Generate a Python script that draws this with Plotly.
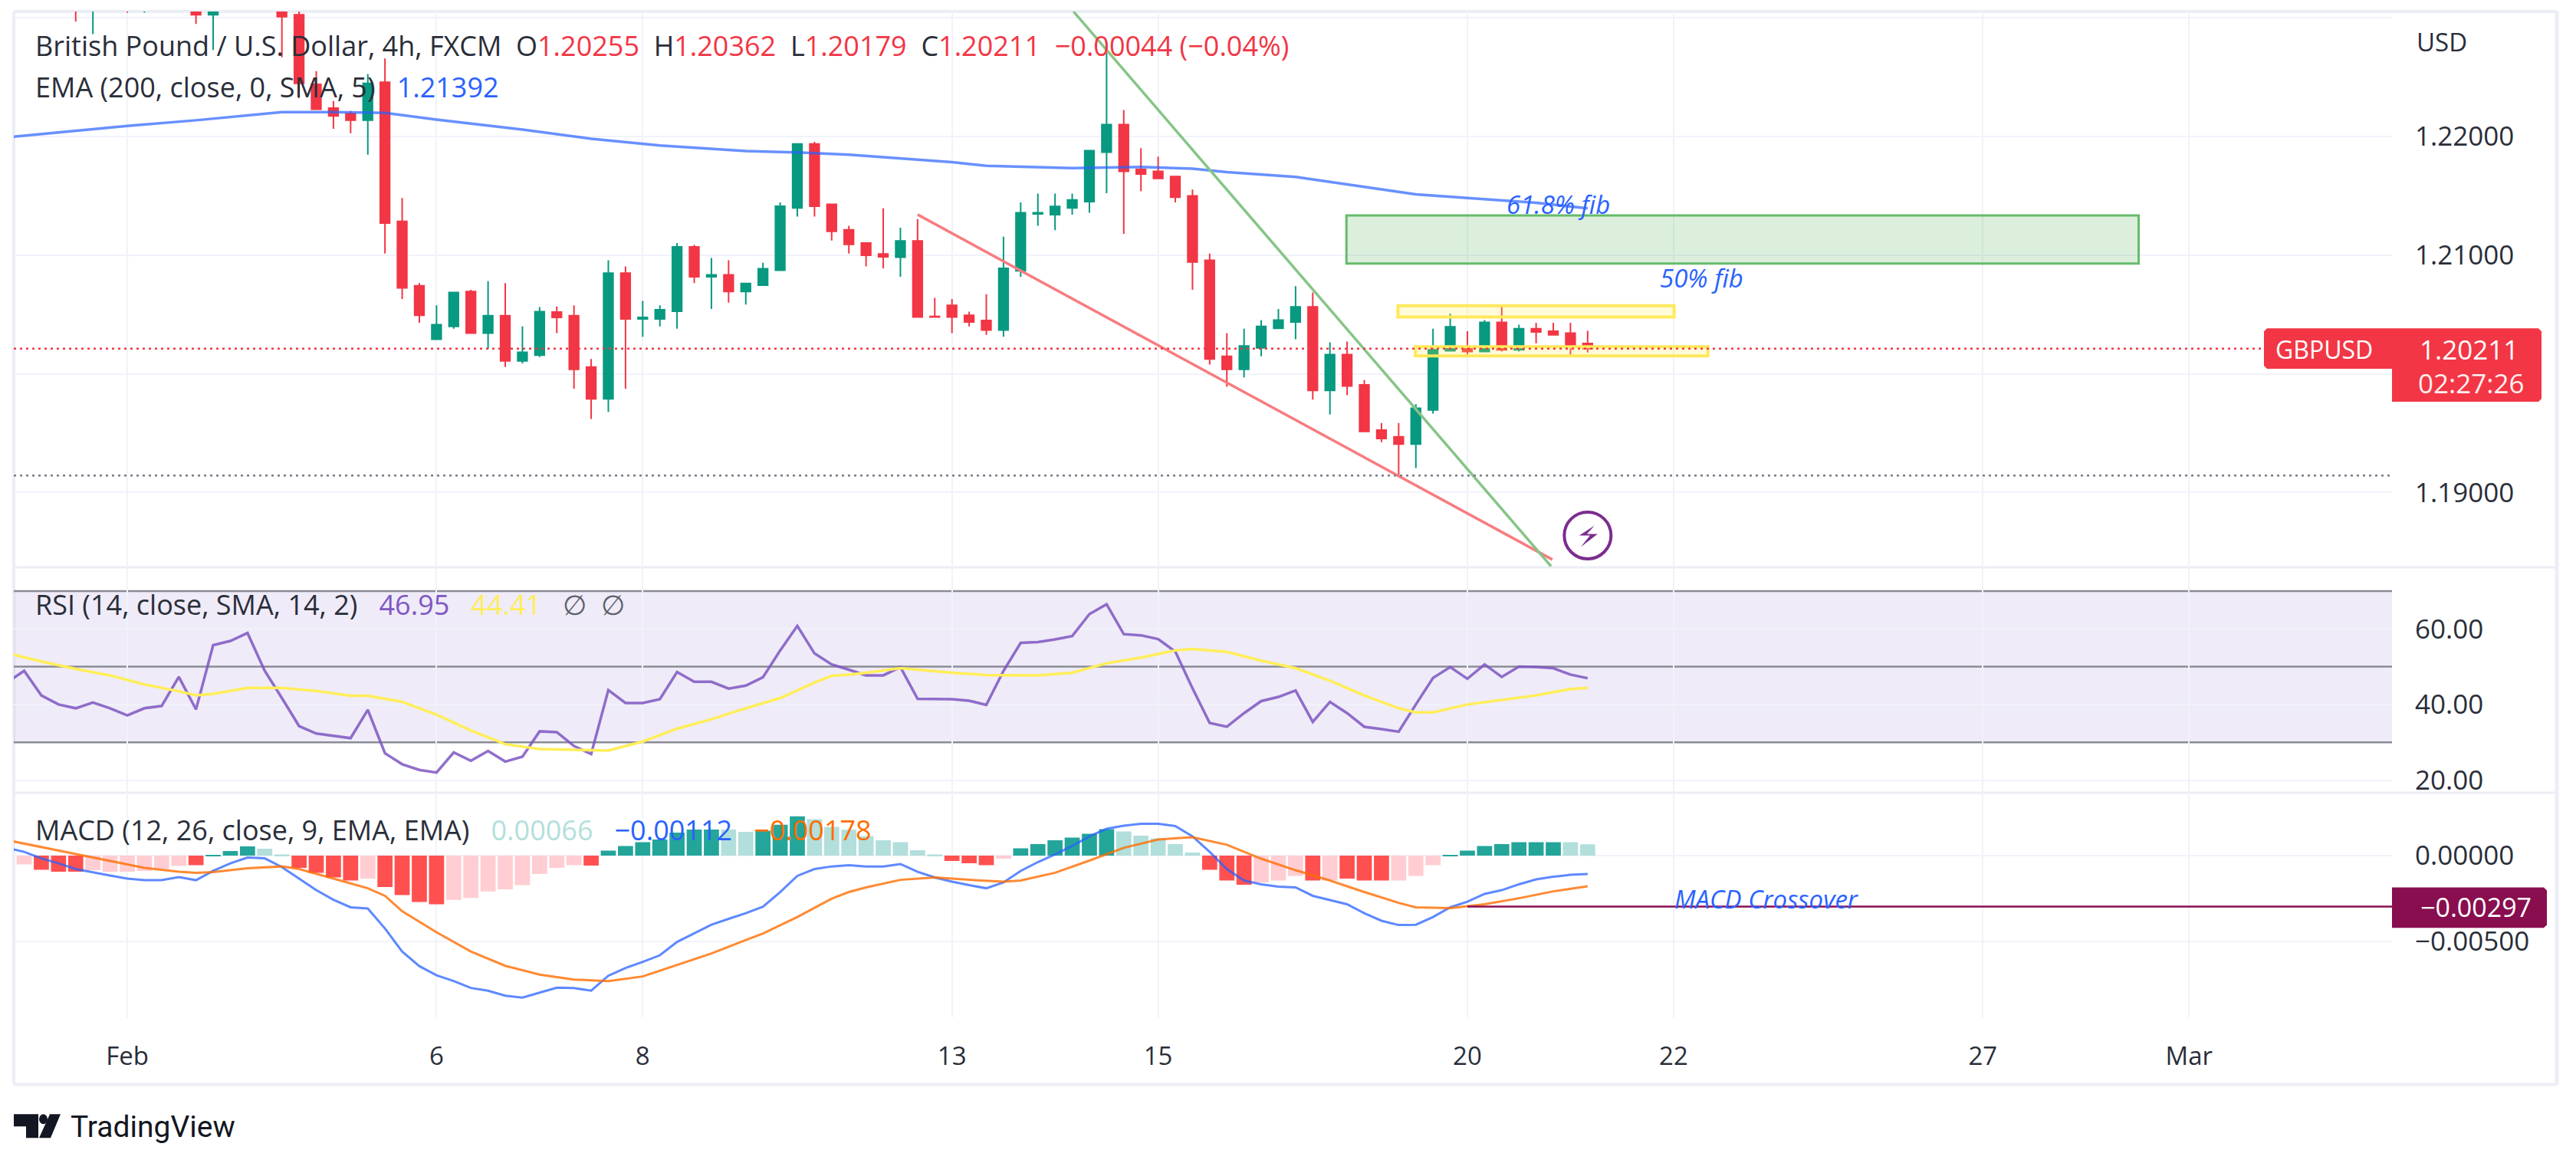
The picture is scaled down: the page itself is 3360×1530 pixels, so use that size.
import plotly.graph_objects as go

W, H = 3360, 1530

# ---------- price candles (bar index 0 = 1 Feb 00:00, 6 bars per day) ----------
bar_index = [-3, -2, 0, 1, 4, 5, 9, 10] + list(range(11, 86))
candle_open = [1.2340, 1.2320, 1.2330, 1.2325, 1.2312, 1.23022, 1.2320, 1.23022,
    1.22436, 1.22237, 1.2219, 1.22134, 1.22455, 1.21283, 1.20741, 1.2029, 1.20399,
    1.20692, 1.20343, 1.20489, 1.20109, 1.20156, 1.2052, 1.20489, 1.20056, 1.19788,
    1.20847, 1.20461, 1.20461, 1.20526, 1.21069, 1.20816, 1.20832, 1.20692, 1.20745,
    1.20872, 1.21396, 1.21935, 1.21427, 1.21212, 1.211, 1.21009, 1.20981, 1.21118,
    1.20483, 1.20576, 1.20492, 1.20449, 1.20368, 1.20866, 1.21346, 1.2134, 1.21396,
    1.21449, 1.21866, 1.22097, 1.2172, 1.21704, 1.2166, 1.21498, 1.20956, 1.20147,
    1.20037, 1.20218, 1.20383, 1.20436, 1.20564, 1.1986, 1.20162, 1.19907, 1.19526,
    1.1947, 1.19408, 1.19695, 1.20193, 1.20227, 1.20187, 1.20433, 1.20202, 1.2038,
    1.20358, 1.20343, 1.20255]
candle_high = [1.2345, 1.2350, 1.2335, 1.2340, 1.2318, 1.2325, 1.2325, 1.2310,
    1.22548, 1.22296, 1.22212, 1.22523, 1.22654, 1.2148, 1.20763, 1.20576, 1.20685,
    1.20707, 1.20779, 1.20763, 1.20399, 1.20561, 1.20567, 1.20576, 1.20125, 1.20956,
    1.20903, 1.20614, 1.20576, 1.211, 1.21084, 1.20975, 1.20956, 1.2076, 1.20935,
    1.21442, 1.21935, 1.21953, 1.21427, 1.21246, 1.211, 1.21393, 1.2123, 1.21302,
    1.20639, 1.20629, 1.20523, 1.2067, 1.21153, 1.21442, 1.21517, 1.21517, 1.21517,
    1.21879, 1.22741, 1.22221, 1.219, 1.21829, 1.2166, 1.21551, 1.21012, 1.20343,
    1.2038, 1.20452, 1.20545, 1.20738, 1.20685, 1.20265, 1.20271, 1.19947, 1.19586,
    1.19586, 1.19745, 1.2038, 1.20505, 1.20358, 1.20452, 1.20576, 1.20414, 1.2043,
    1.2043, 1.2043, 1.20362]
candle_low = [1.22966, 1.2286, 1.2304, 1.2304, 1.22944, 1.22726, 1.22664, 1.22321,
    1.22227, 1.22062, 1.22025, 1.21844, 1.21012, 1.20629, 1.2043, 1.2029, 1.2038,
    1.20343, 1.20209, 1.20056, 1.20087, 1.2014, 1.20343, 1.19875, 1.1962, 1.19679,
    1.19875, 1.20312, 1.20399, 1.2038, 1.20763, 1.20545, 1.20598, 1.20583, 1.20745,
    1.20872, 1.21324, 1.21324, 1.21121, 1.21012, 1.20903, 1.20888, 1.20816, 1.20477,
    1.20477, 1.20343, 1.20399, 1.20327, 1.20312, 1.20816, 1.21246, 1.21209, 1.2134,
    1.21355, 1.2152, 1.21178, 1.21536, 1.21645, 1.21442, 1.20707, 1.20078, 1.19891,
    1.19969, 1.20147, 1.20383, 1.2029, 1.19782, 1.19657, 1.1982, 1.19514, 1.19424,
    1.19143, 1.19206, 1.19664, 1.20187, 1.20147, 1.20187, 1.20187, 1.20187, 1.20256,
    1.20327, 1.20147, 1.20179]
candle_close = [1.2315, 1.2340, 1.2320, 1.2335, 1.23022, 1.2320, 1.23006, 1.22445,
    1.22227, 1.22171, 1.22134, 1.22445, 1.21268, 1.20723, 1.20492, 1.20414, 1.20685,
    1.20343, 1.20489, 1.20109, 1.20181, 1.20523, 1.20474, 1.20037, 1.19788, 1.20847,
    1.20461, 1.20474, 1.20539, 1.21069, 1.20816, 1.20832, 1.20692, 1.2076, 1.20885,
    1.21411, 1.21935, 1.21411, 1.21199, 1.2109, 1.20997, 1.20984, 1.21118, 1.20477,
    1.20477, 1.20477, 1.20436, 1.20368, 1.20888, 1.21355, 1.21355, 1.21408, 1.21464,
    1.21879, 1.22097, 1.21704, 1.21682, 1.21645, 1.21486, 1.20941, 1.20125, 1.20037,
    1.20234, 1.20399, 1.20452, 1.20564, 1.1986, 1.20162, 1.19897, 1.19514, 1.19455,
    1.19408, 1.1971, 1.20202, 1.20396, 1.20187, 1.20433, 1.20202, 1.2038, 1.20352,
    1.20327, 1.20234, 1.20211]

ema_x = [-7, 0, 4, 9, 12, 15, 18, 23, 27, 31, 36, 39, 42, 45, 48, 50, 55, 59, 62, 64, 68, 72, 75, 78, 82, 85]
ema_y = [1.21990, 1.22087, 1.22134, 1.22202, 1.22202, 1.22196, 1.2214, 1.22056, 1.21978, 1.21922,
         1.21875, 1.21863, 1.21844, 1.21813, 1.21782, 1.21751, 1.21732, 1.21741, 1.21726, 1.21698,
         1.21657, 1.21573, 1.21511, 1.2148, 1.21439, 1.21392]

wedge_low_x = [46, 82.95]
wedge_low_y = [1.2134, 1.18436]
wedge_high_x = [55.07, 82.87]
wedge_high_y = [1.2305, 1.1838]

# ---------- RSI ----------
rsi_x = list(range(-7, 86))
rsi_y = [45.8, 48.9, 42.4, 40, 39, 40.5, 39, 37.1, 39, 39.6, 47.3, 38.7, 55.7, 56.8, 58.9, 48.9,
         41.7, 34.3, 32.3, 31.7, 31.1, 38.6, 27.1, 24.2, 22.7, 22, 27.3, 25.1, 27.7, 24.9, 26.2,
         32.9, 32.7, 29, 26.9, 43.8, 40.4, 40.4, 41.4, 48.6, 46, 46, 44.2, 45, 47.2, 54.3, 60.8,
         53.5, 50.6, 49.2, 47.7, 47.7, 49.9, 41.5, 41.4, 41.4, 41, 39.9, 48.9, 56.3, 56.5, 57.2,
         58.1, 63.9, 66.5, 58.6, 58.3, 57.3, 54, 44.3, 35.1, 34.1, 37.7, 40.9, 42, 43.7, 35.4,
         40.7, 37.7, 34.1, 33.5, 32.8, 40, 47, 49.9, 46.8, 50.6, 47.3, 50, 49.9, 49.6, 47.9, 46.95]
rsi_ma_x = [-7, -5, -3, -1, 1, 3, 4, 5, 7, 9, 11, 13, 14, 16, 18, 20, 22, 24, 26, 28, 30, 32, 34, 36,
            38, 40, 41, 42, 43, 45, 48, 50, 53, 55, 57, 59, 61, 62, 64, 66, 68, 70, 72, 74, 75, 76,
            78, 80, 82, 84, 85]
rsi_ma_y = [53.6, 51.4, 49.4, 47.7, 45.3, 43.5, 42.4, 42.8, 44.4, 44.4, 43.6, 42.3, 42.3, 40.7, 37.3,
            33.1, 29.5, 28.2, 28, 27.8, 30.2, 33.6, 36.1, 39, 41.7, 45.8, 47.6, 47.9, 48.4, 49.6,
            48.4, 47.8, 47.7, 48.4, 50.9, 52.4, 54.3, 54.7, 53.9, 51.6, 49.6, 46.3, 42.4, 39, 37.9,
            37.9, 40, 41.2, 42.4, 44.1, 44.41]

# ---------- MACD ----------
macd_x = list(range(-7, 86))
macd_y = [.00045, .00022, -.00016, -.00045, -.00078, -.00098, -.00116, -.00134, -.00143, -.00143,
          -.00125, -.00143, -.00089, -.00045, -.00011, -.00016, -.00067, -.00134, -.00201, -.00257,
          -.00301, -.00308, -.00424, -.00558, -.00643, -.00696, -.0073, -.0077, -.00786, -.00815,
          -.00826, -.00797, -.00768, -.0077, -.00786, -.00699, -.00654, -.00618, -.0058, -.00502,
          -.00451, -.00402, -.00368, -.00335, -.00297, -.00212, -.00118, -.00078, -.00063, -.00056,
          -.00063, -.00063, -.00049, -.00094, -.00127, -.00152, -.00172, -.0019, -.00156, -.00089,
          -.00038, .00007, .00056, .00112, .00156, .00174, .00185, .00185, .00172, .00112, .00022,
          -.00078, -.00145, -.00167, -.00181, -.00185, -.00234, -.00257, -.00283, -.00335, -.00379,
          -.00404, -.00402, -.00357, -.00301, -.00268, -.00223, -.00201, -.00167, -.00138, -.00123,
          -.00112, -.00107]
signal_x = [-7, -5, -3, -1, 1, 3, 4, 5, 7, 9, 10, 12, 14, 15, 16, 18, 20, 22, 24, 26, 28, 30, 32, 34,
            36, 37, 39, 41, 42, 43, 45, 47, 49, 51, 52, 54, 56, 58, 60, 62, 64, 66, 68, 70, 72, 74,
            75, 77, 79, 81, 83, 85]
signal_y = [.00090, .00049, .00011, -.00033, -.00071, -.00094, -.001, -.00096, -.00074, -.00063, -.00078,
            -.00134, -.0019, -.00234, -.00324, -.00446, -.00558, -.00641, -.00692, -.00721, -.0073,
            -.00703, -.00636, -.00569, -.00491, -.00453, -.00357, -.0025, -.00212, -.00185, -.00141,
            -.00127, -.00141, -.00152, -.00145, -.001, -.00029, .00045, .00094, .00107, .00063,
            -.00018, -.00085, -.00145, -.00212, -.00275, -.00301, -.00306, -.00283, -.00248,
            -.00208, -.00178]
hist_x = list(range(-6, 86))
hist_y = [-.00051, -.00083, -.00094, -.00094, -.00085, -.00094, -.00094, -.00089, -.00078, -.0006, -.00056,
          .00002, .00027, .00054, .0004, .00007, -.00071, -.001, -.00127, -.00145, -.00134,
          -.00183, -.0023, -.0027, -.00283, -.00257, -.00246, -.00208, -.00196, -.00172, -.00107,
          -.00071, -.00056, -.00058, .00029, .00056, .00078, .00094, .00134, .00152, .00152,
          .00152, .00138, .00145, .00179, .00228, .00212, .00167, .0015, .00114, .00089,
          .00078, .00031, .00007, -.00031, -.00045, -.00056, -.00018, .00042, .00067, .00089,
          .00105, .00127, .00154, .00141, .00116, .001, .00067, .00018, -.00083, -.00145,
          -.0017, -.00156, -.00145, -.00118, -.00145, -.00145, -.00134, -.00145, -.00145, -.00145,
          -.00118, -.00056, .00004, .00029, .00056, .00067, .00078, .00078, .00078, .00078, .00066]
hist_kind = "PRRRPPPPPPR" "DDDLL" "RRRRP" "RRRRP" "PPPPP" "PPRDD" "DDDDD" "LLDDD" "LLLLL" "LLLRR" "RPDDD" "DDDLL" "LLLRR" "RPPPR" "PRRRP" "PPDDD" "DDDDL" "L"

time_ticks = [0, 18, 30, 48, 60, 78, 90, 108, 120]
time_labels = ["Feb", "6", "8", "13", "15", "20", "22", "27", "Mar"]
price_ticks = [1.19, 1.20, 1.21, 1.22, 1.23]
price_labels = ["1.19000", "", "1.21000", "1.22000", ""]
rsi_ticks = [20, 40, 60]
rsi_labels = ["20.00", "40.00", "60.00"]
macd_ticks = [-0.005, 0]
macd_labels = ["\u22120.00500", "0.00000"]

last_close = 1.20211
support_level = 1.19143
macd_level = -0.00297

# ---------- style ----------
RED, GREEN = "#f23645", "#089981"
BLUE, ORANGE = "#2962ff", "#ff6d00"
PURPLE, YELLOW = "#7e57c2", "#ffee58"
BOLT = "#7b2d8e"
INK, GRID, FRAME = "#2a2e39", "#f0f3fa", "#eceef5"
KIND_COL = {"D": "#26a69a", "L": "#b2dfdb", "R": "#ff5252", "P": "#ffcdd2"}
FONT = "Open Sans"

LEFT, RIGHT = 18, 3120
MAIN_TOP, MAIN_BOT, RSI_BOT, MACD_BOT = 15, 743, 1038, 1332
px_per_bar = 22.41
x_zero_px = 166
x_range = [(LEFT - x_zero_px) / px_per_bar, (RIGHT - x_zero_px) / px_per_bar]


def xp(px):
    return px / W


def yp(py):
    return 1 - py / H


fig = go.Figure()
fig.add_trace(go.Candlestick(
    x=bar_index, open=candle_open, high=candle_high, low=candle_low, close=candle_close,
    increasing=dict(line=dict(color=GREEN, width=2), fillcolor=GREEN),
    decreasing=dict(line=dict(color=RED, width=2), fillcolor=RED),
    whiskerwidth=0, xaxis="x", yaxis="y"))
fig.add_trace(go.Scatter(x=ema_x, y=ema_y, mode="lines", line=dict(color=BLUE, width=3.5), opacity=0.7, xaxis="x", yaxis="y"))
fig.add_trace(go.Scatter(x=wedge_low_x, y=wedge_low_y, mode="lines", line=dict(color="#f77c80", width=3.5), xaxis="x", yaxis="y"))
fig.add_trace(go.Scatter(x=wedge_high_x, y=wedge_high_y, mode="lines", line=dict(color="#86c486", width=3.5), xaxis="x", yaxis="y"))
fig.add_trace(go.Scatter(x=[85], y=[1.18639], mode="markers",
                         marker=dict(symbol="circle-open", size=61, color=BOLT, line=dict(color=BOLT, width=4)),
                         xaxis="x", yaxis="y"))

fig.add_trace(go.Scatter(x=rsi_x, y=rsi_y, mode="lines", line=dict(color=PURPLE, width=3.5), opacity=0.85, xaxis="x2", yaxis="y2"))
fig.add_trace(go.Scatter(x=rsi_ma_x, y=rsi_ma_y, mode="lines", line=dict(color=YELLOW, width=3.5), xaxis="x2", yaxis="y2"))

fig.add_trace(go.Bar(x=hist_x, y=hist_y, width=0.88, marker=dict(color=[KIND_COL[k] for k in hist_kind], line_width=0),
                     xaxis="x3", yaxis="y3"))
fig.add_trace(go.Scatter(x=macd_x, y=macd_y, mode="lines", line=dict(color=BLUE, width=3), opacity=0.75, xaxis="x3", yaxis="y3"))
fig.add_trace(go.Scatter(x=signal_x, y=signal_y, mode="lines", line=dict(color=ORANGE, width=3), opacity=0.8, xaxis="x3", yaxis="y3"))

shapes = []


def paper_line(x0, y0, x1, y1, color, width, dash="solid"):
    shapes.append(dict(type="line", xref="paper", yref="paper", x0=xp(x0), x1=xp(x1), y0=yp(y0), y1=yp(y1),
                       line=dict(color=color, width=width, dash=dash), layer="below"))


def path_to_paper(path):
    out, parts = [], path.split()
    i = 0
    while i < len(parts):
        if parts[i] in "ML":
            out += [parts[i], f"{xp(float(parts[i + 1])):.5f},{yp(float(parts[i + 2])):.5f}"]
            i += 3
        else:
            out.append(parts[i])
            i += 1
    return " ".join(out)


def paper_poly(path, color, layer="above"):
    shapes.append(dict(type="path", xref="paper", yref="paper", path=path_to_paper(path),
                       fillcolor=color, line=dict(width=0), layer=layer))


# frame and pane separators
paper_line(18, 15, 3335, 15, FRAME, 4)
paper_line(18, 1420, 3335, 1420, FRAME, 4)
paper_line(18, 15, 18, 1420, FRAME, 4)
paper_line(3335, 15, 3335, 1420, FRAME, 5)
paper_line(18, 743, 3335, 743, FRAME, 3)
paper_line(18, 1038, 3335, 1038, FRAME, 3)

# zones
shapes.append(dict(type="rect", xref="x", yref="y", x0=70.96, x1=117.07, y0=1.20928, y1=1.21333,
                   fillcolor="rgba(76,175,80,0.2)", line=dict(color="#66bb6a", width=3), layer="above"))
for x0, x1, y0, y1 in [(73.96, 90.03, 1.20477, 1.20573), (74.97, 92.0, 1.2015, 1.20227)]:
    shapes.append(dict(type="rect", xref="x", yref="y", x0=x0, x1=x1, y0=y0, y1=y1,
                       fillcolor="rgba(255,235,59,0.2)", line=dict(color="#ffe95c", width=4), layer="above"))
# dotted levels drawn over the candles
for level, col in [(last_close, RED), (support_level, "#787b86")]:
    shapes.append(dict(type="line", xref="x", yref="y", x0=x_range[0], x1=x_range[1], y0=level, y1=level,
                       line=dict(color=col, width=2.5, dash="3px,5px"), layer="above"))
# bolt inside the purple circle
shapes.append(dict(type="path", xref="x", yref="y", xsizemode="pixel", ysizemode="pixel", xanchor=85, yanchor=1.18639,
                   path="M 9 13 L -11 0 L 3 0 L -9 -15 L 13 2 L -1 2 Z", fillcolor=BOLT, line=dict(width=0), layer="above"))

# RSI band
shapes.append(dict(type="rect", xref="x2", yref="y2", x0=x_range[0], x1=x_range[1], y0=30, y1=70,
                   fillcolor="rgba(126,87,194,0.12)", line=dict(width=0), layer="below"))
for level in [70, 50, 30]:
    shapes.append(dict(type="line", xref="x2", yref="y2", x0=x_range[0], x1=x_range[1], y0=level, y1=level,
                       line=dict(color="#8a8c96", width=2.5), layer="below"))

# MACD levels
shapes.append(dict(type="line", xref="x3", yref="y3", x0=x_range[0], x1=x_range[1], y0=0, y1=0,
                   line=dict(color="#c3c5cb", width=2, dash="14px,17px"), layer="below"))
shapes.append(dict(type="line", xref="x3", yref="y3", x0=78, x1=x_range[1], y0=macd_level, y1=macd_level,
                   line=dict(color="#880e4f", width=2.5), layer="above"))

# last-value labels (slightly rounded corners)
paper_poly("M 2957 430 L 3311 430 L 3315 434 L 3315 522 L 3311 526 L 3120 526 L 3120 483 L 2957 483 L 2953 479 L 2953 434 Z", RED)
paper_poly("M 3120 1162 L 3318 1162 L 3322 1166 L 3322 1211 L 3318 1215 L 3120 1215 Z", "#880e4f")

# TradingView logo
paper_poly("M 18 1459 L 50 1459 L 50 1490 L 34 1490 L 34 1475 L 18 1475 Z", "#131722")
paper_poly("M 65 1459 L 79 1459 L 66 1490 L 51 1490 Z", "#131722")
shapes.append(dict(type="circle", xref="paper", yref="paper", x0=xp(51), x1=xp(62), y0=yp(1459), y1=yp(1472),
                   fillcolor="#131722", line=dict(width=0)))

fig.update_layout(shapes=shapes)

annos = []


def label(px, py, text, size=36, color=INK, anchor="left", family=FONT):
    annos.append(dict(xref="paper", yref="paper", x=xp(px), y=yp(py), text=text, showarrow=False,
                      xanchor=anchor, yanchor="middle", align=anchor, font=dict(family=family, size=size, color=color)))


def span(txt, col):
    return f'<span style="color:{col}">{txt}</span>'


NB = "\u00a0"
GAP2, GAP3 = NB * 2, NB * 3
label(44, 60, f"British Pound / U.S. Dollar, 4h, FXCM{GAP2}O" + span("1.20255", RED) + f"{GAP2}H" + span("1.20362", RED)
      + f"{GAP2}L" + span("1.20179", RED) + f"{GAP2}C" + span(f"1.20211{GAP2}\u22120.00044 (\u22120.04%)", RED))
label(44, 114, f"EMA (200, close, 0, SMA, 5){GAP3}" + span("1.21392", BLUE))
label(44, 792, f"RSI (14, close, SMA, 14, 2){GAP3}" + span("46.95", PURPLE) + GAP3 + span("44.41", YELLOW)
      + GAP3 + span(f"\u2205{GAP2}\u2205", "#5d606b"))
label(44, 1087, f"MACD (12, 26, close, 9, EMA, EMA){GAP3}" + span("0.00066", "#b2dfdb") + GAP3
      + span("\u22120.00112", BLUE) + GAP3 + span("\u22120.00178", ORANGE))
label(3150, 55, "USD", size=33)
label(2966, 457, "GBPUSD", size=32, color="#ffffff")
label(3154, 457, "1.20211", size=35, color="#ffffff")
label(3152, 501, "02:27:26", size=35, color="#ffefef")
label(3155, 1188, "\u22120.00297", size=34, color="#ffffff")
label(2033, 268, "<i>61.8% fib</i>", size=33, color=BLUE, anchor="center")
label(2219, 364, "<i>50% fib</i>", size=33, color=BLUE, anchor="center")
label(2304, 1177, "<i>MACD Crossover</i>", size=33, color=BLUE, anchor="center")
label(90, 1476, "TradingView", size=39, color="#131722", family="Roboto")
fig.update_layout(annotations=annos)


def x_axis(anchor, labels=False):
    d = dict(domain=[xp(LEFT), xp(RIGHT)], range=x_range, anchor=anchor, tickmode="array", tickvals=time_ticks,
             showgrid=True, gridcolor=GRID, gridwidth=2, zeroline=False, showline=False,
             showticklabels=labels, rangeslider=dict(visible=False))
    if labels:
        d.update(ticktext=time_labels, ticks="outside", ticklen=22, tickcolor="rgba(0,0,0,0)",
                 tickfont=dict(family=FONT, size=33, color=INK))
    return d


def y_axis(anchor, top, bot, rng, vals, text):
    return dict(domain=[yp(bot), yp(top)], range=rng, anchor=anchor, side="right", tickmode="array", tickvals=vals,
                ticktext=text, showgrid=True, gridcolor=GRID, gridwidth=2, zeroline=False, showline=False,
                ticks="outside", ticklen=22, tickcolor="rgba(0,0,0,0)", tickfont=dict(family=FONT, size=35, color=INK))


fig.update_layout(
    width=W, height=H, autosize=False, margin=dict(l=0, r=0, t=0, b=0),
    paper_bgcolor="#ffffff", plot_bgcolor="#ffffff", showlegend=False, boxgap=0.45, boxgroupgap=0, bargap=0.12,
    font=dict(family=FONT, color=INK), hovermode=False,
    xaxis=x_axis("y"), xaxis2=x_axis("y2"), xaxis3=x_axis("y3", True),
    yaxis=y_axis("x", MAIN_TOP, MAIN_BOT, [1.1837, 1.2305], price_ticks, price_labels),
    yaxis2=y_axis("x2", MAIN_BOT, RSI_BOT, [16.67, 76.26], rsi_ticks, rsi_labels),
    yaxis3=y_axis("x3", RSI_BOT, MACD_BOT, [-0.0094, 0.00366], macd_ticks, macd_labels),
)

fig.write_html("out.html", config=dict(displayModeBar=False), post_script="document.body.style.margin='0';document.documentElement.style.overflow='hidden';")
